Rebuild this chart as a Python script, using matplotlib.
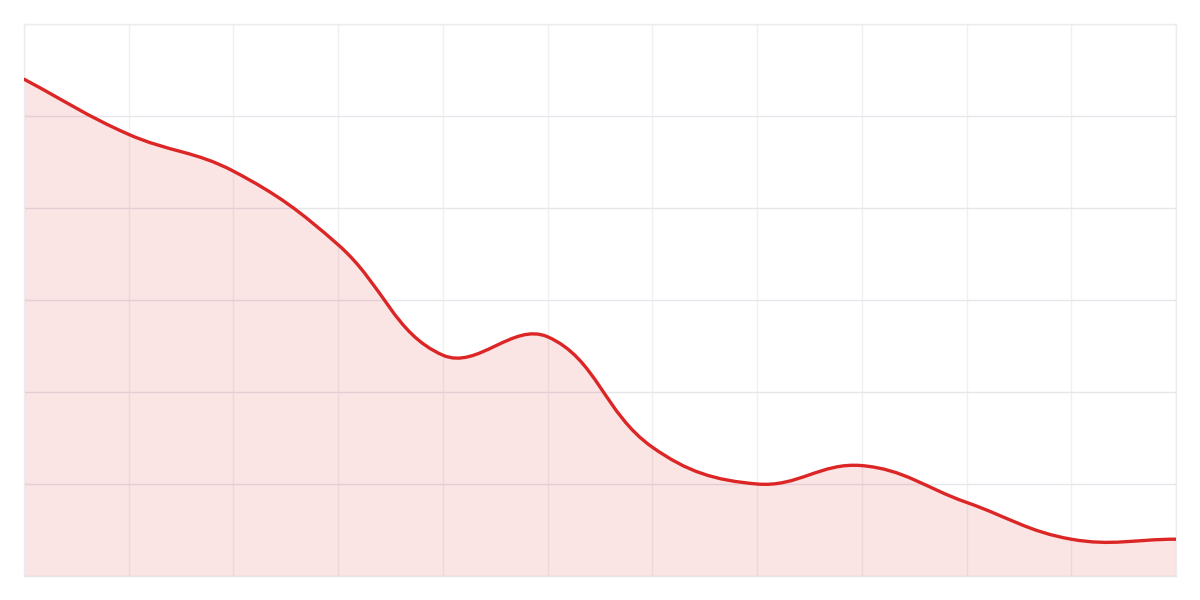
import matplotlib.pyplot as plt
from matplotlib.path import Path
from matplotlib.patches import PathPatch
import numpy as np

# Data (12 evenly spaced points, y axis 0-60)
x_values = list(range(12))
y_values = [54, 48, 44, 36, 24, 26, 14, 10, 12, 8, 4, 4]

line_color = '#dc2626'
fill_color = '#dc2626'
grid_color = '#e5e7eb'

fig = plt.figure(figsize=(12, 6), dpi=100)
ax = fig.add_axes([0.02, 0.04, 0.96, 0.92])
ax.set_xlim(0, 11)
ax.set_ylim(0, 60)

# pixel scale for each data unit, so the smoothing looks the same as on screen
px_x = 1152 / 11
px_y = 552 / 60


def smooth_path(xs, ys, tension=0.4):
    # chart.js style bezier control points
    pts = np.column_stack([xs, ys]).astype(float)
    n = len(pts)
    scale = np.array([px_x, px_y])
    cps = []
    for i in range(n):
        prev = pts[i - 1] if i > 0 else pts[i]
        cur = pts[i]
        nxt = pts[i + 1] if i < n - 1 else pts[i]
        d01 = np.linalg.norm((cur - prev) * scale)
        d12 = np.linalg.norm((nxt - cur) * scale)
        tot = d01 + d12
        s01 = d01 / tot if tot else 0
        s12 = d12 / tot if tot else 0
        fa = tension * s01
        fb = tension * s12
        cps.append((cur - fa * (nxt - prev), cur + fb * (nxt - prev)))
    verts = [tuple(pts[0])]
    codes = [Path.MOVETO]
    for i in range(1, n):
        verts += [tuple(cps[i - 1][1]), tuple(cps[i][0]), tuple(pts[i])]
        codes += [Path.CURVE4] * 3
    return verts, codes


verts, codes = smooth_path(x_values, y_values)

# area under the curve
fill_verts = verts + [(x_values[-1], 0), (x_values[0], 0), verts[0]]
fill_codes = codes + [Path.LINETO, Path.LINETO, Path.CLOSEPOLY]
ax.add_patch(PathPatch(Path(fill_verts, fill_codes), facecolor=fill_color,
                       alpha=0.12, edgecolor='none', zorder=1))

# the line itself
ax.add_patch(PathPatch(Path(verts, codes), facecolor='none', edgecolor=line_color,
                       linewidth=2.4, capstyle='round', joinstyle='round', zorder=3))

# grid
ax.set_xticks(x_values)
ax.set_yticks(range(0, 61, 10))
ax.grid(True, axis='y', color=grid_color, linewidth=1, zorder=0)
ax.grid(True, axis='x', color='#f0f0f3', linewidth=1, zorder=0)
ax.set_axisbelow(True)
ax.tick_params(length=0, labelbottom=False, labelleft=False)
for s in ax.spines.values():
    s.set_color('#ececef')
    s.set_linewidth(1)
ax.spines['bottom'].set_color(grid_color)

fig.savefig('out.png', dpi=100)
